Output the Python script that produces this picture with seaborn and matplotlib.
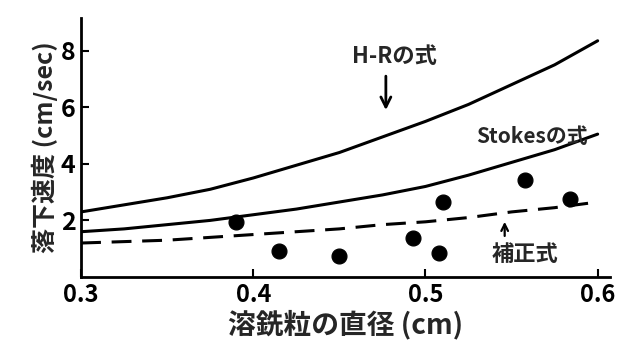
import numpy as np
import pandas as pd
import matplotlib
matplotlib.use("Agg")
import matplotlib.pyplot as plt
import seaborn as sns

# valeurs
diam = [0.30, 0.325, 0.35, 0.375, 0.40, 0.425, 0.45, 0.475, 0.50, 0.525, 0.55, 0.575, 0.60]
hr_speed = [2.3, 2.55, 2.8, 3.1, 3.5, 3.95, 4.4, 4.95, 5.5, 6.1, 6.8, 7.5, 8.35]
stokes_speed = [1.6, 1.7, 1.85, 2.0, 2.2, 2.4, 2.65, 2.9, 3.2, 3.6, 4.05, 4.5, 5.05]
corr_speed = [1.2, 1.25, 1.3, 1.4, 1.5, 1.6, 1.7, 1.85, 1.95, 2.1, 2.3, 2.45, 2.65]

obs_diam = [0.39, 0.415, 0.45, 0.493, 0.508, 0.51, 0.558, 0.584]
obs_speed = [1.93, 0.93, 0.75, 1.39, 0.86, 2.64, 3.43, 2.75]

x_ticks = [0.3, 0.4, 0.5, 0.6]
y_ticks = [2, 4, 6, 8]

curves = pd.DataFrame({"d": diam, "hr": hr_speed, "stokes": stokes_speed, "corr": corr_speed})
obs = pd.DataFrame({"d": obs_diam, "v": obs_speed})

sns.set_style("ticks")
plt.rcParams["font.family"] = ["Noto Sans CJK JP", "DejaVu Sans"]

fig, ax = plt.subplots(figsize=(6.19, 3.56), dpi=100)
fig.subplots_adjust(left=0.131, right=0.985, bottom=0.222, top=0.949)

sns.lineplot(data=curves, x="d", y="hr", ax=ax, color="black", lw=2.2)
sns.lineplot(data=curves, x="d", y="stokes", ax=ax, color="black", lw=2.2)
sns.lineplot(data=curves, x="d", y="corr", ax=ax, color="black", lw=2.2, dashes=False)
ax.lines[-1].set_dashes([6.5, 3.5])
sns.scatterplot(data=obs, x="d", y="v", ax=ax, color="black", s=115, edgecolor="black", zorder=5)

ax.set_xlim(0.3, 0.607)
ax.set_ylim(0, 9.15)
ax.set_xticks(x_ticks)
ax.set_xticklabels([str(t) for t in x_ticks], fontsize=17, fontweight="bold")
ax.set_yticks(y_ticks)
ax.set_yticklabels([str(t) for t in y_ticks], fontsize=18, fontweight="bold")
ax.tick_params(direction="in", length=6, width=1.5, colors="black", pad=4)
for s in ["top", "right"]:
    ax.spines[s].set_visible(False)
for s in ["left", "bottom"]:
    ax.spines[s].set_linewidth(2)
    ax.spines[s].set_color("black")

ax.set_xlabel("溶銑粒の直径 (cm)", fontsize=20, fontweight="bold", labelpad=2)
ax.set_ylabel("落下速度 (cm/sec)", fontsize=18, fontweight="bold", labelpad=2)

ax.text(0.482, 7.8, "H-Rの式", fontsize=16, fontweight="bold", ha="center", va="center")
ax.annotate("", xy=(0.477, 5.9), xytext=(0.477, 7.1),
            arrowprops=dict(arrowstyle="->", color="black", lw=2, mutation_scale=18,
                            shrinkA=0, shrinkB=0))
ax.text(0.562, 4.95, "Stokesの式", fontsize=15, fontweight="bold", ha="center", va="center")
ax.text(0.558, 0.8, "補正式", fontsize=16, fontweight="bold", ha="center", va="center")
ax.annotate("", xy=(0.546, 1.95), xytext=(0.546, 1.45),
            arrowprops=dict(arrowstyle="->", color="black", lw=1.6, mutation_scale=12,
                            shrinkA=0, shrinkB=0))

plt.savefig("out.png", dpi=100)
